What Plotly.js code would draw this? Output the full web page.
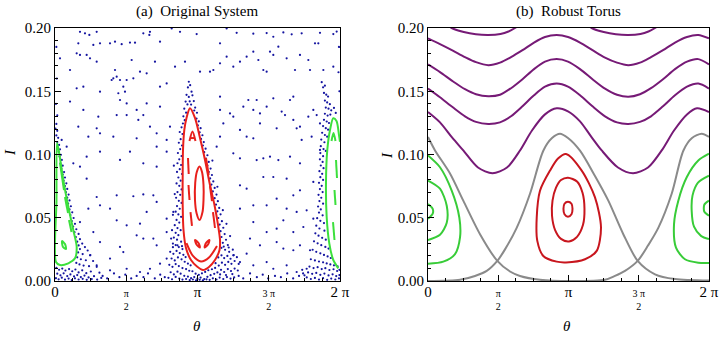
<!DOCTYPE html>
<html><head><meta charset="utf-8">
<script src="https://cdn.plot.ly/plotly-3.0.1.min.js"></script>
<style>html,body{margin:0;padding:0;background:#fff;}#chart{width:720px;height:344px;}</style>
</head><body><div id="chart"></div>
<script>
// ---------- tick labels ----------
const xTickVals = [0, Math.PI/2, Math.PI, 3*Math.PI/2, 2*Math.PI];
const xTickText = ["<span style='font-size:15px'>0</span>", "π<br>2", "<span style='font-size:15px'>π</span>",
                   "3 π<br>2", "<span style='font-size:15px'>2 π</span>"];
const yTickVals = [0, 0.05, 0.10, 0.15, 0.20];
const yTickText = ["0.00", "0.05", "0.10", "0.15", "0.20"];
const panelTitles = ["(a)\u00a0 Original System", "(b)\u00a0 Robust Torus"];

// ---------- panel (a): chaotic dots [theta, I] ----------
const sparseDots = [
[0.551,0.197],[0.661,0.1958],[0.757,0.1945],[0.919,0.197],[0.514,0.1879],[0.992,0.1879],[0.845,0.1866],[1.213,0.1879],[1.323,0.1892],[1.470,0.1872],
[1.653,0.1885],[1.764,0.1884],[1.947,0.1958],[2.094,0.197],[2.080,0.1945],[2.572,0.1997],[2.315,0.1892],[2.756,0.197],[3.123,0.1952],[3.784,0.1997],
[4.005,0.1962],[4.372,0.1955],[4.666,0.1960],[4.813,0.1931],[5.034,0.1965],[5.218,0.1950],[5.438,0.1958],[5.842,0.1962],[6.136,0.1952],[6.210,0.1972],
[0.331,0.1668],[0.110,0.1760],[0.478,0.1800],[0.551,0.1787],[0.698,0.1787],[0.772,0.1760],[0.919,0.1734],[1.323,0.1668],[1.249,0.1589],[1.286,0.1602],
[1.360,0.1615],[1.433,0.1589],[1.506,0.1536],[1.580,0.1589],[1.543,0.1497],[1.580,0.1404],[1.433,0.1431],[1.690,0.1747],[1.727,0.1602],[1.874,0.1655],
[2.021,0.1642],[2.204,0.1734],[2.315,0.1536],[2.315,0.1378],[2.462,0.1562],[2.646,0.1694],[2.866,0.1734],[3.197,0.1655],[3.417,0.1655],[3.491,0.1668],
[3.638,0.1879],[3.638,0.1721],[3.784,0.1773],[3.931,0.1694],[4.078,0.1734],[4.225,0.1773],[4.372,0.1813],[4.483,0.1747],[4.593,0.1668],[4.666,0.1655],
[4.740,0.1813],[4.813,0.1787],[4.924,0.1852],[5.107,0.1760],[5.291,0.1668],[5.401,0.1787],[5.585,0.1747],[5.622,0.1668],[5.732,0.1879],[5.805,0.1879],
[5.916,0.1668],[6.136,0.1694],
[0.478,0.1523],[0.625,0.1536],[0.992,0.1497],[0.331,0.1418],[0.625,0.1352],[0.955,0.1299],[0.919,0.1207],[0.514,0.1220],[0.147,0.1115],[0.257,0.1062],
[0.992,0.1167],[0.735,0.1141],[0.404,0.0930],[1.360,0.1312],[1.396,0.1484],[1.580,0.1312],[1.800,0.1352],[1.837,0.1273],[1.947,0.1312],[2.021,0.1404],
[2.094,0.1220],[2.241,0.1167],[1.800,0.1128],[2.462,0.1115],[2.462,0.1022],[2.241,0.1062],[1.947,0.0930],[2.535,0.1220],[3.638,0.1457],[3.638,0.1352],
[3.711,0.1246],[3.858,0.1325],[3.931,0.1299],[4.078,0.1194],[4.152,0.1378],[4.262,0.1431],[4.372,0.1352],[4.446,0.1431],[4.519,0.1325],[4.519,0.1246],
[4.666,0.1378],[4.813,0.1444],[4.887,0.1207],[4.997,0.1339],[5.071,0.1312],[5.181,0.1431],[5.254,0.1457],[5.254,0.1273],[5.328,0.1207],[5.401,0.1220],
[5.438,0.1115],[5.585,0.1299],[5.695,0.1352],[5.769,0.1312],[5.842,0.1246],[5.658,0.1141],[5.842,0.1036],[4.225,0.1141],[4.372,0.1128],[3.931,0.1009],
[4.078,0.0970],[4.446,0.0956],[4.593,0.0970],[4.740,0.0983],[4.924,0.0956],[5.181,0.0983],[5.401,0.0930],[3.638,0.1141],[3.564,0.1062],[1.286,0.1141],
[1.653,0.1022],[2.241,0.0904],[1.433,0.0957],[0.992,0.1022],[0.698,0.0983],[0.551,0.0904],
[0.698,0.0809],[0.919,0.0664],[1.360,0.0677],[1.727,0.0670],[1.947,0.0684],[2.168,0.0677],[0.992,0.0598],[0.735,0.0572],[1.213,0.0572],[1.360,0.0480],
[0.551,0.0466],[1.580,0.0440],[1.874,0.0453],[2.021,0.0546],[2.241,0.0625],[1.800,0.0361],[1.947,0.0335],[2.168,0.0335],[2.241,0.0282],[2.462,0.0387],
[2.462,0.0493],[2.609,0.0546],[1.433,0.0269],[1.506,0.0229],[0.992,0.0308],[0.845,0.0387],[4.078,0.0756],[4.225,0.0730],[4.593,0.0822],[4.813,0.0822],
[5.107,0.0809],[5.254,0.0677],[5.401,0.0717],[5.695,0.0783],[4.078,0.0572],[4.372,0.0598],[4.666,0.0598],[4.887,0.0651],[5.107,0.0572],[5.328,0.0546],
[5.548,0.0559],[4.372,0.0466],[4.666,0.0387],[4.887,0.0414],[5.034,0.0480],[5.254,0.0387],[5.475,0.0427],[5.695,0.0493],[4.299,0.0335],[4.519,0.0282],
[4.887,0.0308],[5.034,0.0256],[5.254,0.0243],[5.401,0.0282],[5.622,0.0243],[4.225,0.0216],[3.931,0.0203],[4.078,0.0150],[4.372,0.0124],[4.666,0.0150],
[4.813,0.0097],[5.107,0.0124],[5.328,0.0071],[5.548,0.0097],[0.772,0.0203],[0.919,0.0124],[1.213,0.0084],[1.580,0.0097],[1.874,0.0071],[2.094,0.0097],
[2.315,0.0137],[2.462,0.0177],[1.213,0.0177],
[1.05,0.004],[1.15,0.002],[1.30,0.006],[1.42,0.003],[1.55,0.005],[1.68,0.002],[1.80,0.004],[1.95,0.003],[2.05,0.006],[2.20,0.002],[2.32,0.005],[2.42,0.003],
[4.05,0.004],[4.15,0.002],[4.30,0.006],[4.45,0.003],[4.58,0.005],[4.70,0.002],[4.85,0.004],[4.98,0.003],[5.12,0.006],[5.25,0.002],[5.38,0.004],[5.47,0.006],
[0.03,0.185],[0.04,0.160],[0.02,0.140],[0.05,0.131],[6.26,0.185],[6.25,0.165],[6.27,0.150]
];
const redHaloDots = [
[2.95,0.1575],[2.93,0.1530],[2.98,0.1548],[3.01,0.1497],[2.90,0.1472],[2.95,0.1455],[3.03,0.1468],[2.88,0.1418],[2.92,0.1396],[3.06,0.1422],
[3.09,0.1371],[2.85,0.1362],[2.89,0.1331],[3.07,0.1348],[2.97,0.1420],[3.00,0.1395],[2.83,0.1302],[2.86,0.1271],[2.82,0.1245],[3.13,0.1330],
[2.79,0.1215],[2.75,0.1178],[2.81,0.1162],[2.77,0.1121],[2.73,0.1093],[2.80,0.1071],[2.76,0.1043],[2.71,0.1012],[2.79,0.0988],[2.74,0.0962],
[2.70,0.0931],[2.78,0.0917],[2.75,0.0884],[2.69,0.0862],[2.80,0.0846],[2.72,0.0818],[2.77,0.0793],[2.68,0.0771],[2.74,0.0752],[2.79,0.0724],
[2.70,0.0703],[2.76,0.0681],[2.67,0.0658],[2.73,0.0634],[2.79,0.0617],[2.69,0.0592],[2.75,0.0571],[2.66,0.0548],[2.72,0.0526],[2.78,0.0507],
[2.68,0.0483],[2.74,0.0462],[2.64,0.0441],[2.70,0.0418],[2.77,0.0402],[2.66,0.0381],[2.72,0.0362],[2.62,0.0343],[2.69,0.0327],[2.78,0.0311],
[2.60,0.0296],[2.66,0.0284],[2.73,0.0268],[2.81,0.0252],
[3.12,0.1284],[3.17,0.1262],[3.15,0.1231],[3.21,0.1208],[3.19,0.1176],[3.25,0.1152],[3.22,0.1123],[3.28,0.1098],[3.26,0.1071],[3.32,0.1046],
[3.29,0.1018],[3.36,0.0994],[3.33,0.0968],[3.39,0.0941],[3.36,0.0913],[3.43,0.0889],[3.39,0.0862],[3.46,0.0838],[3.42,0.0811],[3.49,0.0787],
[3.45,0.0762],[3.52,0.0736],[3.48,0.0708],[3.56,0.0683],[3.52,0.0655],[3.59,0.0631],[3.55,0.0604],[3.62,0.0578],[3.58,0.0551],[3.65,0.0527],
[3.60,0.0498],[3.68,0.0473],[3.63,0.0446],[3.71,0.0421],[3.65,0.0394],[3.74,0.0371],[3.67,0.0348],[3.77,0.0326],[3.70,0.0302],[3.81,0.0284],
[3.67,0.0262],[3.75,0.0247],[3.84,0.0231],
[2.62,0.0912],[2.64,0.0687],[2.60,0.0523],[3.47,0.0952],[3.58,0.0745],[3.70,0.0560],[3.78,0.0452],[3.86,0.0355],[2.58,0.0402],[2.56,0.0335],
[2.54,0.0231],[2.61,0.0215],[2.68,0.0238],[2.75,0.0221],[2.83,0.0207],[2.88,0.0189],[2.57,0.0178],[2.64,0.0163],[2.71,0.0186],[2.79,0.0171],
[2.86,0.0152],[2.93,0.0138],[2.99,0.0124],[2.52,0.0128],[2.59,0.0112],[2.66,0.0134],[2.73,0.0118],[2.81,0.0102],[2.89,0.0094],[2.96,0.0081],
[3.03,0.0077],[3.10,0.0058],[3.17,0.0049],[3.24,0.0061],[3.31,0.0072],[3.38,0.0085],[3.46,0.0093],[2.55,0.0069],[2.62,0.0052],[2.70,0.0074],
[2.77,0.0058],[2.85,0.0041],[2.93,0.0035],[3.00,0.0022],[3.07,0.0031],[3.14,0.0018],[3.21,0.0027],[3.29,0.0015],[3.36,0.0033],[3.43,0.0046],
[3.51,0.0057],[3.58,0.0068],[2.50,0.0025],[2.58,0.0014],[2.66,0.0032],[2.74,0.0019],[2.81,0.0011],[2.89,0.0016],[2.97,0.0008],[3.04,0.0012],
[3.11,0.0005],[3.19,0.0010],[3.26,0.0006],[3.34,0.0013],[3.41,0.0009],[3.48,0.0021],[3.56,0.0012],[3.63,0.0027],[3.71,0.0016],[3.79,0.0031],
[3.87,0.0019],[3.95,0.0028],[3.54,0.0141],[3.61,0.0122],[3.68,0.0145],[3.75,0.0128],[3.82,0.0151],[3.89,0.0136],[3.96,0.0158],[3.60,0.0186],
[3.67,0.0203],[3.73,0.0181],[3.80,0.0198],[3.87,0.0176],[3.94,0.0205],[4.01,0.0188],[3.53,0.0103],[3.66,0.0088],[3.73,0.0071],[3.81,0.0094],
[3.88,0.0079],[3.96,0.0098],[4.03,0.0083],[3.64,0.0052],[3.77,0.0047],[3.91,0.0055],[2.60,0.0267],[2.70,0.0282],[2.80,0.0275],[3.72,0.0272],
[3.83,0.0265],[3.92,0.0248],[4.05,0.0135]
];
const greenHaloLeftDots = [
[0.03,0.1242],[0.01,0.1205],[0.05,0.1187],[0.03,0.1151],[0.07,0.1132],[0.05,0.1098],[0.09,0.1076],[0.11,0.1041],[0.08,0.1022],[0.13,0.0998],
[0.10,0.0984],[0.15,0.0957],[0.12,0.0931],[0.17,0.0912],[0.14,0.0887],[0.20,0.0861],[0.17,0.0842],[0.22,0.0818],[0.19,0.0793],[0.25,0.0772],
[0.22,0.0751],[0.27,0.0728],[0.24,0.0702],[0.30,0.0683],[0.27,0.0659],[0.32,0.0637],[0.29,0.0612],[0.35,0.0591],[0.32,0.0566],[0.38,0.0543],
[0.34,0.0521],[0.41,0.0498],[0.37,0.0474],[0.44,0.0452],[0.40,0.0431],[0.47,0.0409],[0.43,0.0386],[0.52,0.0372],[0.46,0.0348],[0.55,0.0331],
[0.49,0.0311],[0.60,0.0296],[0.52,0.0281],[0.66,0.0268],[0.55,0.0252],[0.72,0.0241],[0.51,0.0226],[0.61,0.0213],[0.78,0.0205],[0.49,0.0187],
[0.57,0.0172],[0.68,0.0164],[0.84,0.0158],[0.47,0.0143],[0.54,0.0131],[0.63,0.0122],[0.75,0.0117],[0.92,0.0112],
[0.03,0.0104],[0.09,0.0089],[0.16,0.0098],[0.23,0.0083],[0.31,0.0094],[0.38,0.0077],[0.45,0.0091],[0.52,0.0068],[0.60,0.0084],[0.69,0.0062],
[0.79,0.0075],[0.98,0.0066],[0.05,0.0058],[0.12,0.0045],[0.19,0.0061],[0.27,0.0039],[0.34,0.0052],[0.42,0.0036],[0.49,0.0047],[0.57,0.0031],
[0.65,0.0043],[0.74,0.0028],[0.86,0.0038],[1.02,0.0024],[0.02,0.0022],[0.08,0.0013],[0.15,0.0026],[0.22,0.0011],[0.30,0.0019],[0.37,0.0008],
[0.44,0.0021],[0.52,0.0012],[0.61,0.0017],[0.70,0.0009],[0.81,0.0015],[0.93,0.0011]
];
const greenHaloRightDots = [
[5.88,0.1572],[5.91,0.1531],[5.95,0.1544],[5.93,0.1487],[5.98,0.1473],[6.02,0.1458],[5.95,0.1426],[6.00,0.1412],[6.06,0.1398],[5.97,0.1371],
[6.03,0.1362],[6.09,0.1349],[6.15,0.1368],[5.95,0.1322],[6.01,0.1308],[6.07,0.1316],[6.19,0.1329],[5.93,0.1274],[5.99,0.1261],[6.04,0.1249],
[5.91,0.1225],[5.97,0.1208],[6.02,0.1196],[5.89,0.1172],[5.95,0.1154],[6.00,0.1141],[5.87,0.1118],[5.94,0.1097],[5.86,0.1066],[5.92,0.1043],
[5.97,0.1028],[5.85,0.1011],[5.91,0.0987],[5.84,0.0962],[5.90,0.0941],[5.86,0.0913],[5.92,0.0892],[5.83,0.0868],[5.89,0.0847],[5.85,0.0821],
[5.91,0.0799],[5.82,0.0776],[5.88,0.0752],[5.84,0.0727],[5.90,0.0703],[5.81,0.0681],[5.87,0.0658],[5.83,0.0632],[5.91,0.0611],[5.80,0.0589],
[5.86,0.0566],[5.82,0.0541],[5.90,0.0519],[5.78,0.0497],[5.85,0.0476],[5.93,0.0458],[5.76,0.0437],[5.83,0.0415],[5.94,0.0398],[5.74,0.0377],
[5.81,0.0358],[5.89,0.0341],[5.97,0.0327],[5.71,0.0314],[5.79,0.0298],[5.87,0.0283],[5.96,0.0269],[6.03,0.0256],[5.68,0.0247],[5.76,0.0231],
[5.85,0.0219],[5.93,0.0206],[6.01,0.0194],[6.08,0.0182],
[5.64,0.0172],[5.73,0.0163],[5.82,0.0154],[5.91,0.0148],[5.99,0.0139],[6.07,0.0131],[6.15,0.0124],[6.23,0.0116],[5.61,0.0114],[5.70,0.0102],
[5.79,0.0109],[5.88,0.0094],[5.96,0.0101],[6.05,0.0087],[6.14,0.0093],[6.22,0.0079],[6.27,0.0088],[5.58,0.0068],[5.67,0.0057],[5.76,0.0064],
[5.85,0.0049],[5.94,0.0059],[6.03,0.0044],[6.12,0.0053],[6.20,0.0039],[6.27,0.0047],[5.55,0.0028],[5.64,0.0016],[5.73,0.0024],[5.82,0.0011],
[5.91,0.0022],[6.00,0.0009],[6.09,0.0019],[6.18,0.0012],[6.26,0.0021],[5.50,0.0045],[5.45,0.0088]
];

// ---------- panel (a): regular orbits [theta, I]; null = gap ----------
const redOuterA = [[2.976,0.1365],[2.899,0.1289],[2.851,0.1194],[2.822,0.1036],[2.815,0.0838],[2.815,0.0601],[2.833,0.0403],[2.888,0.0261],[2.998,0.0166],
  [3.131,0.0115],[3.263,0.0087],[3.395,0.0111],[3.527,0.0166],[3.627,0.0245],[3.638,0.0324],[3.594,0.0443],[3.516,0.0601],[3.417,0.0759],
  [3.307,0.0957],[3.197,0.1130],[3.086,0.1289],[2.976,0.1365]];
const redLensA = [[2.899,0.0300],[3.042,0.0198],[3.219,0.0154],[3.395,0.0186],[3.571,0.0277]];
const redInnerA = [[3.186,0.0906],[3.241,0.0862],[3.274,0.0759],[3.274,0.0640],[3.252,0.0545],[3.186,0.0482],[3.120,0.0538],[3.086,0.0640],
  [3.091,0.0775],[3.126,0.0862],[3.186,0.0906]];
const redChainA = [[2.965,0.1107],[3.031,0.1182],[3.097,0.1107],null,[2.987,0.1130],[3.075,0.1130],null,
  [2.932,0.0972],[2.948,0.0846],null,[2.943,0.0759],[2.965,0.0640],null,[2.987,0.0545],[3.020,0.0435],null,
  [3.329,0.0972],[3.389,0.0838],null,[3.417,0.0751],[3.461,0.0632],null,[3.483,0.0545],[3.527,0.0419],null,
  [3.086,0.0324],[3.163,0.0300],[3.197,0.0265],[3.120,0.0289],[3.086,0.0324],null,
  [3.406,0.0324],[3.329,0.0300],[3.296,0.0265],[3.373,0.0289],[3.406,0.0324]];
const greenLeftA = [[0.044,0.1091],[0.088,0.1020],[0.183,0.0798],[0.293,0.0587],[0.403,0.0403],[0.478,0.0271],[0.441,0.0179],[0.293,0.0140],
  [0.110,0.0126],[0.022,0.0150],[0.033,0.0640],[0.044,0.1091]];
const greenLeftChainA = [[0.110,0.0933],[0.198,0.0719],null,[0.220,0.0664],[0.287,0.0538],null,[0.309,0.0482],[0.364,0.0387],null,
  [0.154,0.0316],[0.220,0.0292],[0.243,0.0253],[0.176,0.0269],[0.154,0.0316]];
const greenRightA = [[6.246,0.0100],[6.135,0.0166],[6.047,0.0298],[5.989,0.0508],[5.974,0.0772],[6.003,0.1036],[6.063,0.1194],[6.135,0.1286],
  [6.206,0.1265],[6.261,0.1154],[6.283,0.1100]];
const greenRightChainA = [[6.096,0.1107],[6.140,0.1170],[6.184,0.1107],null,[6.195,0.0957],[6.217,0.0814],null,[6.162,0.0719],[6.184,0.0601],null,
  [6.129,0.0466],[6.162,0.0324]];

// ---------- panel (b): curves [theta, I] ----------
const thetaA = [0,0.268,0.555,0.827,1.073,1.348,1.610,1.856,2.113,2.370,2.616,2.878,3.130,3.399,3.678,3.958,4.226,4.479,4.740,4.986,5.255,5.523,5.791,6.044,6.283];
const purple2 = [0.1918,0.1873,0.1821,0.1770,0.1730,0.1706,0.1726,0.1770,0.1825,0.1885,0.1929,0.1944,0.1929,0.1885,0.1825,0.1766,0.1726,0.1706,0.1726,0.1770,0.1825,0.1885,0.1929,0.1944,0.1918];
const purple3 = [0.1712,0.1651,0.1579,0.1516,0.1476,0.1460,0.1472,0.1524,0.1595,0.1675,0.1734,0.1754,0.1734,0.1675,0.1595,0.1520,0.1472,0.1456,0.1476,0.1524,0.1595,0.1675,0.1734,0.1754,0.1712];
const purple4 = [0.1521,0.1452,0.1373,0.1302,0.1258,0.1242,0.1254,0.1302,0.1381,0.1468,0.1536,0.1561,0.1536,0.1468,0.1381,0.1302,0.1254,0.1242,0.1258,0.1302,0.1381,0.1468,0.1536,0.1561,0.1521];
const thetaB = [0,0.268,0.537,0.789,1.118,1.442,1.766,2.057,2.325,2.616,2.878,3.130,3.399,3.645,3.884,4.248,4.584,4.919,5.226,5.501,5.791,6.015,6.283];
const purple5 = [0.1336,0.1254,0.1135,0.1032,0.0897,0.0852,0.0897,0.1032,0.1190,0.1317,0.1365,0.1341,0.1262,0.1143,0.1032,0.0897,0.0852,0.0897,0.1032,0.1190,0.1317,0.1365,0.1336];
const purple1 = [[0.35,0.2045],[0.53,0.2000],[0.80,0.1968],[1.07,0.1950],[1.348,0.1944],[1.62,0.1952],[1.80,0.1972],[1.945,0.2000],[2.10,0.2040],null,
  [3.50,0.2045],[3.66,0.2000],[3.93,0.1968],[4.20,0.1950],[4.479,0.1944],[4.75,0.1952],[4.93,0.1972],[5.076,0.2000],[5.23,0.2040]];
const gray1 = [[0,0.0],[0.716,0.001],[1.050,0.004],[1.313,0.008],[1.550,0.0159],[1.722,0.025],[1.983,0.042],[2.281,0.069],[2.578,0.103],[2.773,0.113],
  [2.952,0.1164],[3.130,0.113],[3.399,0.103],[3.734,0.083],[4.032,0.0635],[4.367,0.037],[4.689,0.0159],[5.076,0.0053],[5.523,0.0015],[6.283,0.0003]];
const gray2 = [[0,0.1138],[0.157,0.1032],[0.492,0.085],[0.789,0.0635],[1.163,0.037],[1.550,0.0159],[1.834,0.0075],[2.057,0.004],[2.504,0.001],[3.175,0.0],
  [3.958,0.001],[4.181,0.004],[4.405,0.008],[4.689,0.0159],[4.919,0.028],[5.149,0.042],[5.449,0.069],[5.709,0.103],[5.903,0.113],[6.120,0.1164],[6.283,0.114]];
const redOuterB = [[3.086,0.1004],[3.437,0.0873],[3.734,0.0661],[3.868,0.0423],[3.772,0.0238],[3.511,0.0172],[3.086,0.0147],[2.878,0.0153],[2.578,0.0198],
  [2.444,0.0317],[2.431,0.0502],[2.504,0.0714],[2.728,0.0873],[2.907,0.0968],[3.086,0.1004]];
const redMiddleB = [[3.130,0.0817],[3.332,0.0786],[3.455,0.0698],[3.499,0.0571],[3.466,0.0444],[3.332,0.0349],[3.153,0.0313],[2.974,0.0333],[2.840,0.0405],
  [2.773,0.0516],[2.784,0.0635],[2.862,0.0738],[2.974,0.0798],[3.130,0.0817]];
const redInnerB = [[3.130,0.0627],[3.209,0.0611],[3.231,0.0571],[3.209,0.0528],[3.130,0.0508],[3.052,0.0528],[3.029,0.0571],[3.052,0.0611],[3.130,0.0627]];
const greenOuterLeftB = [[0,0.0992],[0.268,0.0899],[0.530,0.0714],[0.700,0.0502],[0.716,0.0344],[0.604,0.0212],[0.342,0.0153],[0,0.0137]];
const greenMiddleLeftB = [[0,0.0794],[0.268,0.0730],[0.419,0.0595],[0.419,0.0460],[0.268,0.0365],[0,0.0323]];
const greenInnerLeftB = [[0,0.0609],[0.105,0.0571],[0.105,0.0532],[0,0.0492]];
const greenOuterRightB = [[6.283,0.1006],[6.044,0.0952],[5.785,0.0820],[5.597,0.0635],[5.501,0.0450],[5.545,0.0264],[5.746,0.0172],[6.044,0.0145],[6.283,0.0143]];
const greenMiddleRightB = [[6.283,0.0833],[6.037,0.0778],[5.914,0.0675],[5.896,0.0556],[5.948,0.0429],[6.104,0.0357],[6.283,0.0331]];
const greenInnerRightB = [[6.283,0.0635],[6.178,0.0603],[6.178,0.0548],[6.283,0.0516]];

// ---------- helpers ----------
const C = {dot:'#1414a0', redA:'#e8201c', greenA:'#3ce03c', purple:'#761a76', gray:'#8a8a8a', redB:'#c8161e', greenB:'#38cc38'};
function dots(pairs, xa, ya){
  return {type:'scatter', mode:'markers', xaxis:xa, yaxis:ya, hoverinfo:'skip', showlegend:false,
    x:pairs.map(p=>p[0]), y:pairs.map(p=>p[1]), marker:{size:2.2, color:C.dot}};
}
function line(pairs, color, xa, ya, w){
  return {type:'scatter', mode:'lines', xaxis:xa, yaxis:ya, hoverinfo:'skip', showlegend:false, connectgaps:false,
    x:pairs.map(p=>p?p[0]:null), y:pairs.map(p=>p?p[1]:null),
    line:{color:color, width:w||2, shape:'spline', smoothing:0.8}};
}
function lineXY(xs, ys, color){
  return line(xs.map((x,i)=>[x, ys[i]]), color, 'x2', 'y2', 2);
}

const traces = [
  dots(sparseDots,'x','y'), dots(redHaloDots,'x','y'), dots(greenHaloLeftDots,'x','y'), dots(greenHaloRightDots,'x','y'),
  line(redOuterA, C.redA,'x','y'), line(redLensA, C.redA,'x','y'), line(redInnerA, C.redA,'x','y'), line(redChainA, C.redA,'x','y'),
  line(greenLeftA, C.greenA,'x','y'), line(greenLeftChainA, C.greenA,'x','y'), line(greenRightA, C.greenA,'x','y'), line(greenRightChainA, C.greenA,'x','y'),
  line(purple1, C.purple,'x2','y2'), lineXY(thetaA, purple2, C.purple), lineXY(thetaA, purple3, C.purple), lineXY(thetaA, purple4, C.purple),
  lineXY(thetaB, purple5, C.purple),
  line(gray1, C.gray,'x2','y2'), line(gray2, C.gray,'x2','y2'),
  line(redOuterB, C.redB,'x2','y2'), line(redMiddleB, C.redB,'x2','y2'), line(redInnerB, C.redB,'x2','y2'),
  line(greenOuterLeftB, C.greenB,'x2','y2'), line(greenMiddleLeftB, C.greenB,'x2','y2'), line(greenInnerLeftB, C.greenB,'x2','y2'),
  line(greenOuterRightB, C.greenB,'x2','y2'), line(greenMiddleRightB, C.greenB,'x2','y2'), line(greenInnerRightB, C.greenB,'x2','y2')
];

const FONT = 'Liberation Serif, Times New Roman, serif';
const minorX = [1,2,3,5,6,7,9,10,11,13,14,15].map(k=>k*Math.PI/8);
function xAxis(domain){
  return {domain:domain, range:[0, 2*Math.PI], tickmode:'array', tickvals:xTickVals, ticktext:xTickText,
    ticks:'inside', ticklen:6, tickwidth:1, tickcolor:'#000', showline:true, linecolor:'#000', linewidth:1, mirror:true,
    showgrid:false, zeroline:false, tickfont:{family:FONT, size:10, color:'#000'}, ticklabelstandoff:3,
    minor:{tickmode:'array', tickvals:minorX, ticks:'inside', ticklen:3, tickcolor:'#000', tickwidth:1, showgrid:false}};
}
function yAxis(domain, anchor){
  return {domain:domain, anchor:anchor, range:[0, 0.2], tickmode:'array', tickvals:yTickVals, ticktext:yTickText,
    ticks:'inside', ticklen:6, tickwidth:1, tickcolor:'#000', showline:true, linecolor:'#000', linewidth:1, mirror:true,
    showgrid:false, zeroline:false, tickfont:{family:FONT, size:15, color:'#000'},
    minor:{dtick:0.01, ticks:'inside', ticklen:3, tickcolor:'#000', tickwidth:1, showgrid:false}};
}
const W = 720, H = 344;
const yDom = [1-281/H, 1-28/H];
const ann = (text, px, py, extra) => Object.assign({text:text, x:px/W, y:1-py/H, xref:'paper', yref:'paper', showarrow:false,
  xanchor:'center', yanchor:'middle', font:{family:FONT, size:15, color:'#000'}}, extra||{});
const layout = {
  width:W, height:H, margin:{l:0, r:0, t:0, b:0}, paper_bgcolor:'#fff', plot_bgcolor:'#fff',
  xaxis: Object.assign(xAxis([55/W, 340/W]), {anchor:'y'}),
  yaxis: yAxis(yDom, 'x'),
  xaxis2: Object.assign(xAxis([428/W, 709/W]), {anchor:'y2'}),
  yaxis2: yAxis(yDom, 'x2'),
  annotations: [
    ann(panelTitles[0], 197, 12), ann(panelTitles[1], 568, 12),
    ann('<i>θ</i>', 197, 326), ann('<i>θ</i>', 567, 326),
    ann('<i>I</i>', 10, 153, {textangle:-90}), ann('<i>I</i>', 387, 156, {textangle:-90})
  ]
};
Plotly.newPlot('chart', traces, layout, {staticPlot:true, displayModeBar:false});
</script></body></html>
